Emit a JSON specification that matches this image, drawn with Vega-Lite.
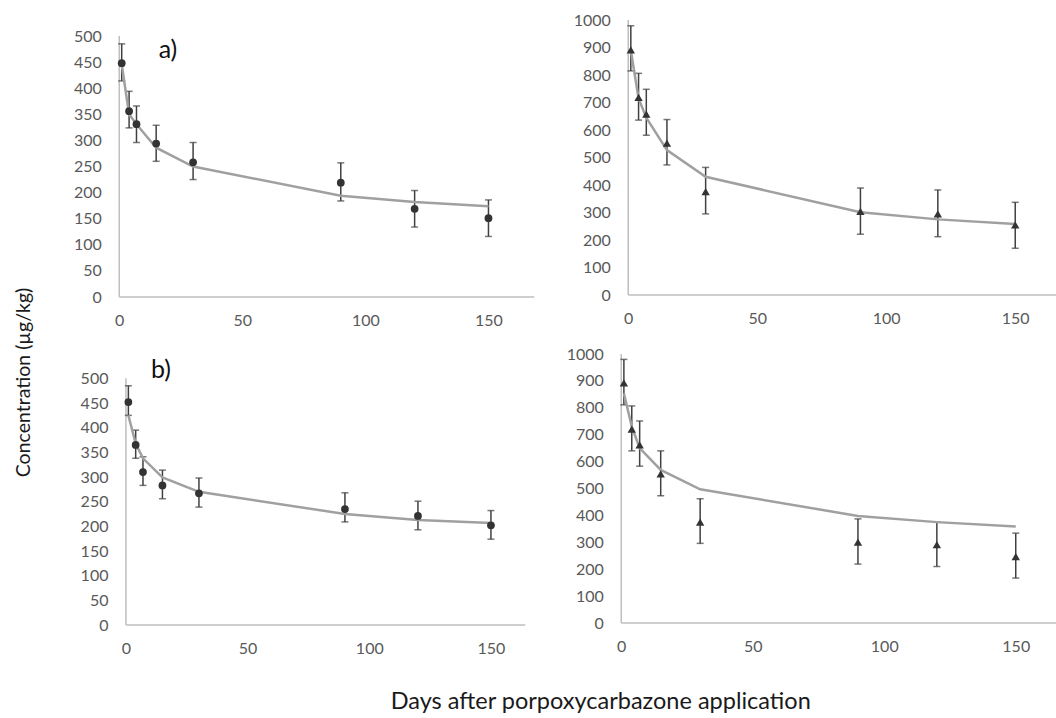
{
  "$schema": "https://vega.github.io/schema/vega-lite/v6.json",
  "background": "white",
  "padding": {"left": 13.25, "top": 12, "right": 0, "bottom": 0},
  "config": {
    "view": {"stroke": null},
    "font": "Lato",
    "axis": {"domain": false, "ticks": false, "tickSize": 0, "grid": false, "labelFont": "Lato", "labelFontSize": 16, "labelColor": "#595959", "labelFlush": false, "labelOverlap": false, "titleFont": "Lato", "titleColor": "#1a1a1a", "titleFontWeight": "normal", "format": "d"},
    "axisX": {"labelPadding": 15},
    "axisY": {"labelPadding": 18}
  },
  "datasets": {
    "pts": [
      {"panel": "a", "day": 1, "conc": 448, "lo": 414, "hi": 485, "fit": 446},
      {"panel": "a", "day": 4, "conc": 356, "lo": 324, "hi": 394, "fit": 350},
      {"panel": "a", "day": 7, "conc": 331, "lo": 296, "hi": 366, "fit": 331},
      {"panel": "a", "day": 15, "conc": 294, "lo": 260, "hi": 329, "fit": 286},
      {"panel": "a", "day": 30, "conc": 258, "lo": 225, "hi": 296, "fit": 250},
      {"panel": "a", "day": 90, "conc": 219, "lo": 184, "hi": 257, "fit": 194},
      {"panel": "a", "day": 120, "conc": 169, "lo": 134, "hi": 204, "fit": 182},
      {"panel": "a", "day": 150, "conc": 151, "lo": 116, "hi": 186, "fit": 174},
      {"panel": "b", "day": 1, "conc": 891, "lo": 815, "hi": 979, "fit": 890},
      {"panel": "b", "day": 4, "conc": 719, "lo": 636, "hi": 806, "fit": 715},
      {"panel": "b", "day": 7, "conc": 658, "lo": 581, "hi": 748, "fit": 645},
      {"panel": "b", "day": 15, "conc": 552, "lo": 473, "hi": 638, "fit": 527},
      {"panel": "b", "day": 30, "conc": 376, "lo": 295, "hi": 464, "fit": 430},
      {"panel": "b", "day": 90, "conc": 304, "lo": 221, "hi": 389, "fit": 301},
      {"panel": "b", "day": 120, "conc": 295, "lo": 212, "hi": 382, "fit": 275},
      {"panel": "b", "day": 150, "conc": 255, "lo": 170, "hi": 337, "fit": 258},
      {"panel": "c", "day": 1, "conc": 452, "lo": 425, "hi": 485, "fit": 425},
      {"panel": "c", "day": 4, "conc": 365, "lo": 338, "hi": 395, "fit": 368},
      {"panel": "c", "day": 7, "conc": 310, "lo": 283, "hi": 341, "fit": 338},
      {"panel": "c", "day": 15, "conc": 283, "lo": 256, "hi": 314, "fit": 299},
      {"panel": "c", "day": 30, "conc": 267, "lo": 239, "hi": 298, "fit": 270},
      {"panel": "c", "day": 90, "conc": 235, "lo": 209, "hi": 268, "fit": 225},
      {"panel": "c", "day": 120, "conc": 221, "lo": 193, "hi": 251, "fit": 213},
      {"panel": "c", "day": 150, "conc": 202, "lo": 174, "hi": 232, "fit": 207},
      {"panel": "d", "day": 1, "conc": 893, "lo": 811, "hi": 980, "fit": 854},
      {"panel": "d", "day": 4, "conc": 721, "lo": 640, "hi": 807, "fit": 730},
      {"panel": "d", "day": 7, "conc": 662, "lo": 583, "hi": 751, "fit": 650},
      {"panel": "d", "day": 15, "conc": 554, "lo": 473, "hi": 640, "fit": 569},
      {"panel": "d", "day": 30, "conc": 375, "lo": 296, "hi": 462, "fit": 497},
      {"panel": "d", "day": 90, "conc": 301, "lo": 219, "hi": 387, "fit": 398},
      {"panel": "d", "day": 120, "conc": 291, "lo": 210, "hi": 375, "fit": 375},
      {"panel": "d", "day": 150, "conc": 247, "lo": 167, "hi": 334, "fit": 359}
    ],
    "axes": [
      {"panel": "a", "x": 0, "y": 0, "x2": 0, "y2": 500},
      {"panel": "a", "x": 0, "y": 0, "x2": 168.6, "y2": 0},
      {"panel": "b", "x": 0, "y": 0, "x2": 0, "y2": 1000},
      {"panel": "b", "x": 0, "y": 0, "x2": 165.9, "y2": 0},
      {"panel": "c", "x": 0, "y": 0, "x2": 0, "y2": 500},
      {"panel": "c", "x": 0, "y": 0, "x2": 164.1, "y2": 0},
      {"panel": "d", "x": 0, "y": 0, "x2": 0, "y2": 1000},
      {"panel": "d", "x": 0, "y": 0, "x2": 165.4, "y2": 0}
    ],
    "labels": [
      {"panel": "a", "x": 16, "y": 457, "label": "a)"},
      {"panel": "c", "x": 10.3, "y": 500, "label": "b)"}
    ]
  },
  "columns": 2,
  "bounds": "flush",
  "align": "each",
  "spacing": {"row": 57, "column": 87},
  "concat": [
    {
      "width": 415, "height": 277,
      "layer": [
        {"data": {"name": "axes"}, "transform": [{"filter": "datum.panel === 'a'"}],
         "mark": {"type": "rule", "color": "#bfbfbf", "strokeWidth": 1.5},
         "encoding": {
           "x": {"field": "x", "type": "quantitative", "scale": {"domain": [0, 168.6], "nice": false, "zero": false}, "axis": {"values": [0, 50, 100, 150], "title": null}},
           "y": {"field": "y", "type": "quantitative", "scale": {"domain": [0, 530.7], "nice": false, "zero": false}, "axis": {"values": [0, 50, 100, 150, 200, 250, 300, 350, 400, 450, 500], "title": "Concentration (µg/kg)", "titleX": -96, "titleY": 362, "titleAngle": 270, "titleAlign": "center", "titleBaseline": "middle", "titleFontSize": 19.5}},
           "x2": {"field": "x2"}, "y2": {"field": "y2"}}},
        {"data": {"name": "pts"}, "transform": [{"filter": "datum.panel === 'a'"}],
         "mark": {"type": "rule", "color": "#404040", "strokeWidth": 1.5},
         "encoding": {
           "x": {"field": "day", "type": "quantitative", "scale": {"domain": [0, 168.6], "nice": false, "zero": false}, "axis": {"values": [0, 50, 100, 150], "title": null}},
           "y": {"field": "lo", "type": "quantitative", "scale": {"domain": [0, 530.7], "nice": false, "zero": false}, "axis": {"values": [0, 50, 100, 150, 200, 250, 300, 350, 400, 450, 500], "title": "Concentration (µg/kg)", "titleX": -96, "titleY": 362, "titleAngle": 270, "titleAlign": "center", "titleBaseline": "middle", "titleFontSize": 19.5}},
           "y2": {"field": "hi"}}},
        {"data": {"name": "pts"}, "transform": [{"filter": "datum.panel === 'a'"}],
         "mark": {"type": "tick", "orient": "horizontal", "size": 7, "thickness": 1.5, "color": "#404040"},
         "encoding": {
           "x": {"field": "day", "type": "quantitative", "scale": {"domain": [0, 168.6], "nice": false, "zero": false}, "axis": {"values": [0, 50, 100, 150], "title": null}},
           "y": {"field": "lo", "type": "quantitative", "scale": {"domain": [0, 530.7], "nice": false, "zero": false}, "axis": {"values": [0, 50, 100, 150, 200, 250, 300, 350, 400, 450, 500], "title": "Concentration (µg/kg)", "titleX": -96, "titleY": 362, "titleAngle": 270, "titleAlign": "center", "titleBaseline": "middle", "titleFontSize": 19.5}}}},
        {"data": {"name": "pts"}, "transform": [{"filter": "datum.panel === 'a'"}],
         "mark": {"type": "tick", "orient": "horizontal", "size": 7, "thickness": 1.5, "color": "#404040"},
         "encoding": {
           "x": {"field": "day", "type": "quantitative", "scale": {"domain": [0, 168.6], "nice": false, "zero": false}, "axis": {"values": [0, 50, 100, 150], "title": null}},
           "y": {"field": "hi", "type": "quantitative", "scale": {"domain": [0, 530.7], "nice": false, "zero": false}, "axis": {"values": [0, 50, 100, 150, 200, 250, 300, 350, 400, 450, 500], "title": "Concentration (µg/kg)", "titleX": -96, "titleY": 362, "titleAngle": 270, "titleAlign": "center", "titleBaseline": "middle", "titleFontSize": 19.5}}}},
        {"data": {"name": "pts"}, "transform": [{"filter": "datum.panel === 'a'"}],
         "mark": {"type": "line", "color": "#a0a0a0", "strokeWidth": 2.5},
         "encoding": {
           "x": {"field": "day", "type": "quantitative", "scale": {"domain": [0, 168.6], "nice": false, "zero": false}, "axis": {"values": [0, 50, 100, 150], "title": null}},
           "y": {"field": "fit", "type": "quantitative", "scale": {"domain": [0, 530.7], "nice": false, "zero": false}, "axis": {"values": [0, 50, 100, 150, 200, 250, 300, 350, 400, 450, 500], "title": "Concentration (µg/kg)", "titleX": -96, "titleY": 362, "titleAngle": 270, "titleAlign": "center", "titleBaseline": "middle", "titleFontSize": 19.5}}}},
        {"data": {"name": "pts"}, "transform": [{"filter": "datum.panel === 'a'"}],
         "mark": {"type": "point", "filled": true, "shape": "circle", "size": 60, "color": "#333333", "opacity": 1},
         "encoding": {
           "x": {"field": "day", "type": "quantitative", "scale": {"domain": [0, 168.6], "nice": false, "zero": false}, "axis": {"values": [0, 50, 100, 150], "title": null}},
           "y": {"field": "conc", "type": "quantitative", "scale": {"domain": [0, 530.7], "nice": false, "zero": false}, "axis": {"values": [0, 50, 100, 150, 200, 250, 300, 350, 400, 450, 500], "title": "Concentration (µg/kg)", "titleX": -96, "titleY": 362, "titleAngle": 270, "titleAlign": "center", "titleBaseline": "middle", "titleFontSize": 19.5}}}},
        {"data": {"name": "labels"}, "transform": [{"filter": "datum.panel === 'a'"}],
         "mark": {"type": "text", "align": "left", "baseline": "alphabetic", "fontSize": 25, "font": "Lato", "color": "#111111"},
         "encoding": {
           "x": {"field": "x", "type": "quantitative", "scale": {"domain": [0, 168.6], "nice": false, "zero": false}, "axis": {"values": [0, 50, 100, 150], "title": null}},
           "y": {"field": "y", "type": "quantitative", "scale": {"domain": [0, 530.7], "nice": false, "zero": false}, "axis": {"values": [0, 50, 100, 150, 200, 250, 300, 350, 400, 450, 500], "title": "Concentration (µg/kg)", "titleX": -96, "titleY": 362, "titleAngle": 270, "titleAlign": "center", "titleBaseline": "middle", "titleFontSize": 19.5}},
           "text": {"field": "label"}}}
      ]
    },
    {
      "width": 435, "height": 275,
      "layer": [
        {"data": {"name": "axes"}, "transform": [{"filter": "datum.panel === 'b'"}],
         "mark": {"type": "rule", "color": "#bfbfbf", "strokeWidth": 1.5},
         "encoding": {
           "x": {"field": "x", "type": "quantitative", "scale": {"domain": [-2.71, 165.9], "nice": false, "zero": false}, "axis": {"values": [0, 50, 100, 150], "title": null}},
           "y": {"field": "y", "type": "quantitative", "scale": {"domain": [0, 1000], "nice": false, "zero": false}, "axis": {"values": [0, 100, 200, 300, 400, 500, 600, 700, 800, 900, 1000], "title": null, "offset": -7, "format": "d"}},
           "x2": {"field": "x2"}, "y2": {"field": "y2"}}},
        {"data": {"name": "pts"}, "transform": [{"filter": "datum.panel === 'b'"}],
         "mark": {"type": "rule", "color": "#404040", "strokeWidth": 1.5},
         "encoding": {
           "x": {"field": "day", "type": "quantitative", "scale": {"domain": [-2.71, 165.9], "nice": false, "zero": false}, "axis": {"values": [0, 50, 100, 150], "title": null}},
           "y": {"field": "lo", "type": "quantitative", "scale": {"domain": [0, 1000], "nice": false, "zero": false}, "axis": {"values": [0, 100, 200, 300, 400, 500, 600, 700, 800, 900, 1000], "title": null, "offset": -7, "format": "d"}},
           "y2": {"field": "hi"}}},
        {"data": {"name": "pts"}, "transform": [{"filter": "datum.panel === 'b'"}],
         "mark": {"type": "tick", "orient": "horizontal", "size": 7, "thickness": 1.5, "color": "#404040"},
         "encoding": {
           "x": {"field": "day", "type": "quantitative", "scale": {"domain": [-2.71, 165.9], "nice": false, "zero": false}, "axis": {"values": [0, 50, 100, 150], "title": null}},
           "y": {"field": "lo", "type": "quantitative", "scale": {"domain": [0, 1000], "nice": false, "zero": false}, "axis": {"values": [0, 100, 200, 300, 400, 500, 600, 700, 800, 900, 1000], "title": null, "offset": -7, "format": "d"}}}},
        {"data": {"name": "pts"}, "transform": [{"filter": "datum.panel === 'b'"}],
         "mark": {"type": "tick", "orient": "horizontal", "size": 7, "thickness": 1.5, "color": "#404040"},
         "encoding": {
           "x": {"field": "day", "type": "quantitative", "scale": {"domain": [-2.71, 165.9], "nice": false, "zero": false}, "axis": {"values": [0, 50, 100, 150], "title": null}},
           "y": {"field": "hi", "type": "quantitative", "scale": {"domain": [0, 1000], "nice": false, "zero": false}, "axis": {"values": [0, 100, 200, 300, 400, 500, 600, 700, 800, 900, 1000], "title": null, "offset": -7, "format": "d"}}}},
        {"data": {"name": "pts"}, "transform": [{"filter": "datum.panel === 'b'"}],
         "mark": {"type": "line", "color": "#a0a0a0", "strokeWidth": 2.5},
         "encoding": {
           "x": {"field": "day", "type": "quantitative", "scale": {"domain": [-2.71, 165.9], "nice": false, "zero": false}, "axis": {"values": [0, 50, 100, 150], "title": null}},
           "y": {"field": "fit", "type": "quantitative", "scale": {"domain": [0, 1000], "nice": false, "zero": false}, "axis": {"values": [0, 100, 200, 300, 400, 500, 600, 700, 800, 900, 1000], "title": null, "offset": -7, "format": "d"}}}},
        {"data": {"name": "pts"}, "transform": [{"filter": "datum.panel === 'b'"}],
         "mark": {"type": "point", "filled": true, "shape": "triangle-up", "size": 70, "color": "#333333", "opacity": 1},
         "encoding": {
           "x": {"field": "day", "type": "quantitative", "scale": {"domain": [-2.71, 165.9], "nice": false, "zero": false}, "axis": {"values": [0, 50, 100, 150], "title": null}},
           "y": {"field": "conc", "type": "quantitative", "scale": {"domain": [0, 1000], "nice": false, "zero": false}, "axis": {"values": [0, 100, 200, 300, 400, 500, 600, 700, 800, 900, 1000], "title": null, "offset": -7, "format": "d"}}}}
      ]
    },
    {
      "width": 406, "height": 271,
      "layer": [
        {"data": {"name": "axes"}, "transform": [{"filter": "datum.panel === 'c'"}],
         "mark": {"type": "rule", "color": "#bfbfbf", "strokeWidth": 1.5},
         "encoding": {
           "x": {"field": "x", "type": "quantitative", "scale": {"domain": [-2.75, 164.1], "nice": false, "zero": false}, "axis": {"values": [0, 50, 100, 150], "title": "Days after porpoxycarbazone application", "titleX": 481, "titleY": 83, "titleAlign": "center", "titleBaseline": "alphabetic", "titleAngle": 0, "titleFontSize": 23.5}},
           "y": {"field": "y", "type": "quantitative", "scale": {"domain": [0, 549.4], "nice": false, "zero": false}, "axis": {"values": [0, 50, 100, 150, 200, 250, 300, 350, 400, 450, 500], "title": null, "offset": -6.7}},
           "x2": {"field": "x2"}, "y2": {"field": "y2"}}},
        {"data": {"name": "pts"}, "transform": [{"filter": "datum.panel === 'c'"}],
         "mark": {"type": "rule", "color": "#404040", "strokeWidth": 1.5},
         "encoding": {
           "x": {"field": "day", "type": "quantitative", "scale": {"domain": [-2.75, 164.1], "nice": false, "zero": false}, "axis": {"values": [0, 50, 100, 150], "title": "Days after porpoxycarbazone application", "titleX": 481, "titleY": 83, "titleAlign": "center", "titleBaseline": "alphabetic", "titleAngle": 0, "titleFontSize": 23.5}},
           "y": {"field": "lo", "type": "quantitative", "scale": {"domain": [0, 549.4], "nice": false, "zero": false}, "axis": {"values": [0, 50, 100, 150, 200, 250, 300, 350, 400, 450, 500], "title": null, "offset": -6.7}},
           "y2": {"field": "hi"}}},
        {"data": {"name": "pts"}, "transform": [{"filter": "datum.panel === 'c'"}],
         "mark": {"type": "tick", "orient": "horizontal", "size": 7, "thickness": 1.5, "color": "#404040"},
         "encoding": {
           "x": {"field": "day", "type": "quantitative", "scale": {"domain": [-2.75, 164.1], "nice": false, "zero": false}, "axis": {"values": [0, 50, 100, 150], "title": "Days after porpoxycarbazone application", "titleX": 481, "titleY": 83, "titleAlign": "center", "titleBaseline": "alphabetic", "titleAngle": 0, "titleFontSize": 23.5}},
           "y": {"field": "lo", "type": "quantitative", "scale": {"domain": [0, 549.4], "nice": false, "zero": false}, "axis": {"values": [0, 50, 100, 150, 200, 250, 300, 350, 400, 450, 500], "title": null, "offset": -6.7}}}},
        {"data": {"name": "pts"}, "transform": [{"filter": "datum.panel === 'c'"}],
         "mark": {"type": "tick", "orient": "horizontal", "size": 7, "thickness": 1.5, "color": "#404040"},
         "encoding": {
           "x": {"field": "day", "type": "quantitative", "scale": {"domain": [-2.75, 164.1], "nice": false, "zero": false}, "axis": {"values": [0, 50, 100, 150], "title": "Days after porpoxycarbazone application", "titleX": 481, "titleY": 83, "titleAlign": "center", "titleBaseline": "alphabetic", "titleAngle": 0, "titleFontSize": 23.5}},
           "y": {"field": "hi", "type": "quantitative", "scale": {"domain": [0, 549.4], "nice": false, "zero": false}, "axis": {"values": [0, 50, 100, 150, 200, 250, 300, 350, 400, 450, 500], "title": null, "offset": -6.7}}}},
        {"data": {"name": "pts"}, "transform": [{"filter": "datum.panel === 'c'"}],
         "mark": {"type": "line", "color": "#a0a0a0", "strokeWidth": 2.5},
         "encoding": {
           "x": {"field": "day", "type": "quantitative", "scale": {"domain": [-2.75, 164.1], "nice": false, "zero": false}, "axis": {"values": [0, 50, 100, 150], "title": "Days after porpoxycarbazone application", "titleX": 481, "titleY": 83, "titleAlign": "center", "titleBaseline": "alphabetic", "titleAngle": 0, "titleFontSize": 23.5}},
           "y": {"field": "fit", "type": "quantitative", "scale": {"domain": [0, 549.4], "nice": false, "zero": false}, "axis": {"values": [0, 50, 100, 150, 200, 250, 300, 350, 400, 450, 500], "title": null, "offset": -6.7}}}},
        {"data": {"name": "pts"}, "transform": [{"filter": "datum.panel === 'c'"}],
         "mark": {"type": "point", "filled": true, "shape": "circle", "size": 60, "color": "#333333", "opacity": 1},
         "encoding": {
           "x": {"field": "day", "type": "quantitative", "scale": {"domain": [-2.75, 164.1], "nice": false, "zero": false}, "axis": {"values": [0, 50, 100, 150], "title": "Days after porpoxycarbazone application", "titleX": 481, "titleY": 83, "titleAlign": "center", "titleBaseline": "alphabetic", "titleAngle": 0, "titleFontSize": 23.5}},
           "y": {"field": "conc", "type": "quantitative", "scale": {"domain": [0, 549.4], "nice": false, "zero": false}, "axis": {"values": [0, 50, 100, 150, 200, 250, 300, 350, 400, 450, 500], "title": null, "offset": -6.7}}}},
        {"data": {"name": "labels"}, "transform": [{"filter": "datum.panel === 'c'"}],
         "mark": {"type": "text", "align": "left", "baseline": "alphabetic", "fontSize": 25, "font": "Lato", "color": "#111111"},
         "encoding": {
           "x": {"field": "x", "type": "quantitative", "scale": {"domain": [-2.75, 164.1], "nice": false, "zero": false}, "axis": {"values": [0, 50, 100, 150], "title": "Days after porpoxycarbazone application", "titleX": 481, "titleY": 83, "titleAlign": "center", "titleBaseline": "alphabetic", "titleAngle": 0, "titleFontSize": 23.5}},
           "y": {"field": "y", "type": "quantitative", "scale": {"domain": [0, 549.4], "nice": false, "zero": false}, "axis": {"values": [0, 50, 100, 150, 200, 250, 300, 350, 400, 450, 500], "title": null, "offset": -6.7}},
           "text": {"field": "label"}}}
      ]
    },
    {
      "width": 435, "height": 269,
      "layer": [
        {"data": {"name": "axes"}, "transform": [{"filter": "datum.panel === 'd'"}],
         "mark": {"type": "rule", "color": "#bfbfbf", "strokeWidth": 1.5},
         "encoding": {
           "x": {"field": "x", "type": "quantitative", "scale": {"domain": [0, 165.4], "nice": false, "zero": false}, "axis": {"values": [0, 50, 100, 150], "title": null}},
           "y": {"field": "y", "type": "quantitative", "scale": {"domain": [0, 1000], "nice": false, "zero": false}, "axis": {"values": [0, 100, 200, 300, 400, 500, 600, 700, 800, 900, 1000], "title": null, "format": "d"}},
           "x2": {"field": "x2"}, "y2": {"field": "y2"}}},
        {"data": {"name": "pts"}, "transform": [{"filter": "datum.panel === 'd'"}],
         "mark": {"type": "rule", "color": "#404040", "strokeWidth": 1.5},
         "encoding": {
           "x": {"field": "day", "type": "quantitative", "scale": {"domain": [0, 165.4], "nice": false, "zero": false}, "axis": {"values": [0, 50, 100, 150], "title": null}},
           "y": {"field": "lo", "type": "quantitative", "scale": {"domain": [0, 1000], "nice": false, "zero": false}, "axis": {"values": [0, 100, 200, 300, 400, 500, 600, 700, 800, 900, 1000], "title": null, "format": "d"}},
           "y2": {"field": "hi"}}},
        {"data": {"name": "pts"}, "transform": [{"filter": "datum.panel === 'd'"}],
         "mark": {"type": "tick", "orient": "horizontal", "size": 7, "thickness": 1.5, "color": "#404040"},
         "encoding": {
           "x": {"field": "day", "type": "quantitative", "scale": {"domain": [0, 165.4], "nice": false, "zero": false}, "axis": {"values": [0, 50, 100, 150], "title": null}},
           "y": {"field": "lo", "type": "quantitative", "scale": {"domain": [0, 1000], "nice": false, "zero": false}, "axis": {"values": [0, 100, 200, 300, 400, 500, 600, 700, 800, 900, 1000], "title": null, "format": "d"}}}},
        {"data": {"name": "pts"}, "transform": [{"filter": "datum.panel === 'd'"}],
         "mark": {"type": "tick", "orient": "horizontal", "size": 7, "thickness": 1.5, "color": "#404040"},
         "encoding": {
           "x": {"field": "day", "type": "quantitative", "scale": {"domain": [0, 165.4], "nice": false, "zero": false}, "axis": {"values": [0, 50, 100, 150], "title": null}},
           "y": {"field": "hi", "type": "quantitative", "scale": {"domain": [0, 1000], "nice": false, "zero": false}, "axis": {"values": [0, 100, 200, 300, 400, 500, 600, 700, 800, 900, 1000], "title": null, "format": "d"}}}},
        {"data": {"name": "pts"}, "transform": [{"filter": "datum.panel === 'd'"}],
         "mark": {"type": "line", "color": "#a0a0a0", "strokeWidth": 2.5},
         "encoding": {
           "x": {"field": "day", "type": "quantitative", "scale": {"domain": [0, 165.4], "nice": false, "zero": false}, "axis": {"values": [0, 50, 100, 150], "title": null}},
           "y": {"field": "fit", "type": "quantitative", "scale": {"domain": [0, 1000], "nice": false, "zero": false}, "axis": {"values": [0, 100, 200, 300, 400, 500, 600, 700, 800, 900, 1000], "title": null, "format": "d"}}}},
        {"data": {"name": "pts"}, "transform": [{"filter": "datum.panel === 'd'"}],
         "mark": {"type": "point", "filled": true, "shape": "triangle-up", "size": 70, "color": "#333333", "opacity": 1},
         "encoding": {
           "x": {"field": "day", "type": "quantitative", "scale": {"domain": [0, 165.4], "nice": false, "zero": false}, "axis": {"values": [0, 50, 100, 150], "title": null}},
           "y": {"field": "conc", "type": "quantitative", "scale": {"domain": [0, 1000], "nice": false, "zero": false}, "axis": {"values": [0, 100, 200, 300, 400, 500, 600, 700, 800, 900, 1000], "title": null, "format": "d"}}}}
      ]
    }
  ]
}
